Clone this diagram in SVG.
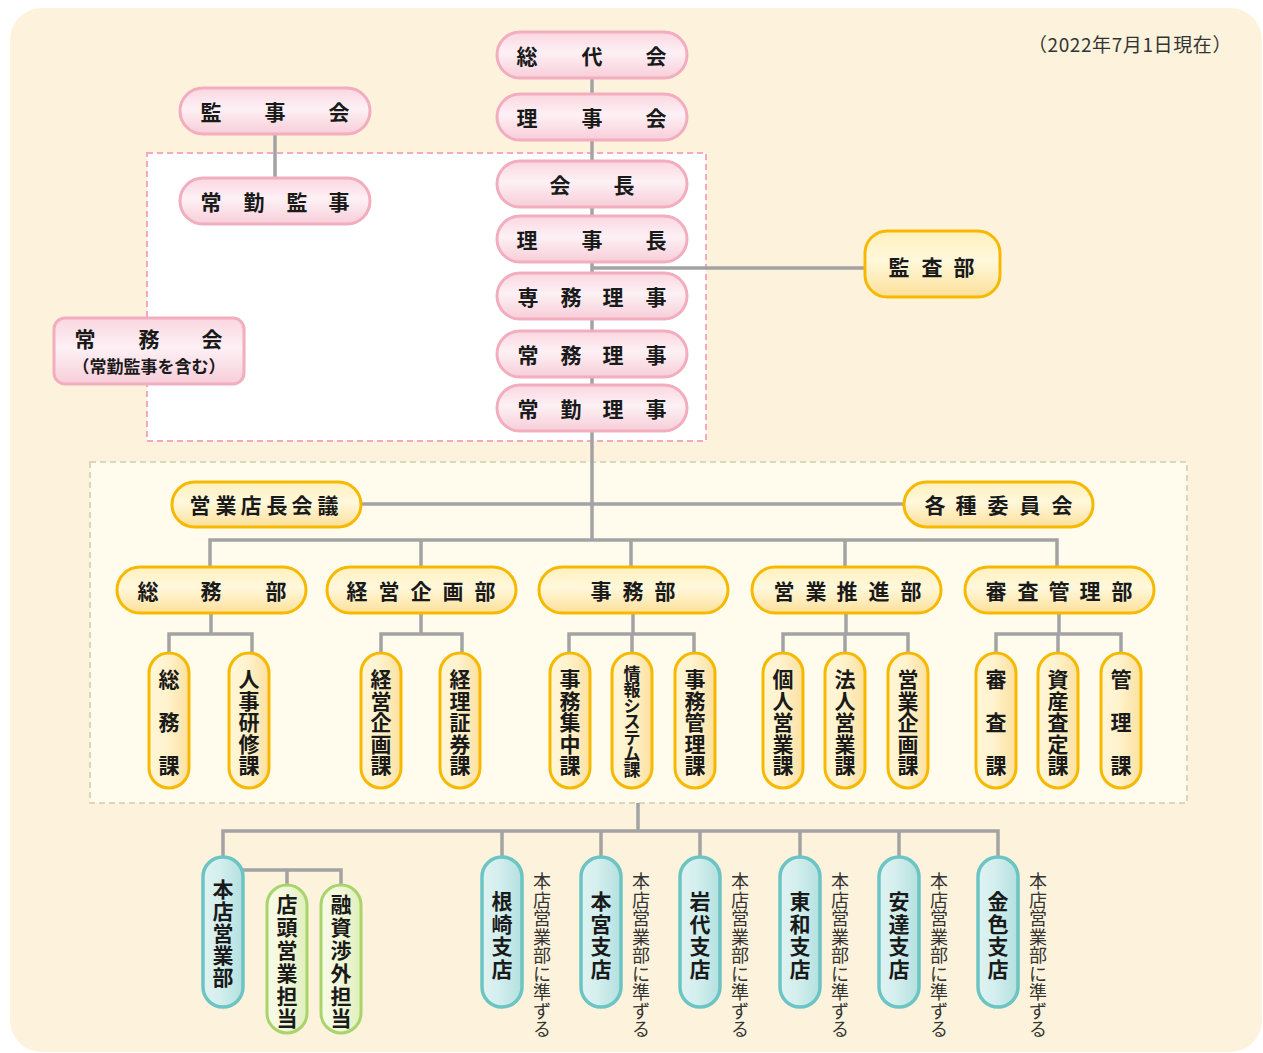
<svg xmlns="http://www.w3.org/2000/svg" width="1263" height="1053" viewBox="0 0 1263 1053">
<defs>
<linearGradient id="gPink" x1="0" y1="0" x2="0" y2="1">
<stop offset="0" stop-color="#fbd6e1"/><stop offset="0.45" stop-color="#fdf1f5"/><stop offset="1" stop-color="#f8cdd9"/>
</linearGradient>
<linearGradient id="gYel" x1="0" y1="0" x2="0" y2="1">
<stop offset="0" stop-color="#fff0bd"/><stop offset="0.45" stop-color="#fff8dc"/><stop offset="1" stop-color="#fde09a"/>
</linearGradient>
<linearGradient id="gYelV" x1="0" y1="0" x2="1" y2="0">
<stop offset="0" stop-color="#fff6d6"/><stop offset="0.4" stop-color="#fff4d0"/><stop offset="1" stop-color="#fde0a0"/>
</linearGradient>
<linearGradient id="gTeal" x1="0" y1="0" x2="1" y2="0">
<stop offset="0" stop-color="#dff3f2"/><stop offset="0.4" stop-color="#d4efee"/><stop offset="1" stop-color="#b3e0df"/>
</linearGradient>
<linearGradient id="gGreen" x1="0" y1="0" x2="1" y2="0">
<stop offset="0" stop-color="#f7fbe6"/><stop offset="0.4" stop-color="#f3f8dd"/><stop offset="1" stop-color="#e1efbc"/>
</linearGradient>
</defs>
<style>
.pink{fill:url(#gPink);stroke:#f2adbf;stroke-width:3}
.yel{fill:url(#gYel);stroke:#f7b900;stroke-width:3}
.yelv{fill:url(#gYelV);stroke:#f7b900;stroke-width:3}
.teal{fill:url(#gTeal);stroke:#6cc4c4;stroke-width:3.5}
.green{fill:url(#gGreen);stroke:#a9d46b;stroke-width:3}
.t{font-family:"Noto Sans CJK JP","Noto Sans CJK SC",sans-serif;font-weight:bold;font-size:21px;fill:#1a1a1a;text-anchor:middle;dominant-baseline:central}
.ts{font-size:17px}
.note{font-family:"Noto Sans CJK JP",sans-serif;font-weight:normal;font-size:18px;fill:#333;text-anchor:middle;dominant-baseline:central}
.ln{fill:none;stroke:#a3a3a3;stroke-width:3.5}
</style>
<rect x="10" y="8" width="1252" height="1044" rx="32" fill="#fdf3dc"/>
<rect x="147" y="153" width="559" height="288" fill="#ffffff" stroke="#f4aabc" stroke-width="2" stroke-dasharray="6 4"/>
<rect x="90" y="462" width="1097" height="341" fill="#fffcee" stroke="#ddd5bd" stroke-width="2" stroke-dasharray="6 4"/>
<text x="1232" y="43" font-family="Noto Sans CJK JP,sans-serif" font-size="19" letter-spacing="0.6" fill="#333" text-anchor="end" dominant-baseline="central">（2022年7月1日現在）</text>

<g id="connectors">
<path class="ln" d="M592 78V540M275 134V178M592 268H865M361 504H904"/>
<path class="ln" d="M210 567V540H1057V567M421 540V567M631 540V567M845 540V567"/>
<path class="ln" d="M211 613V634M169 653V634H252V653"/>
<path class="ln" d="M421 613V634M381 653V634H462V653"/>
<path class="ln" d="M633 613V634M569 653V634H694V653M632 634V653"/>
<path class="ln" d="M846 613V634M783 653V634H908V653M845 634V653"/>
<path class="ln" d="M1059 613V634M996 653V634H1121V653M1058 634V653"/>
<path class="ln" d="M638 803V831M223 857V831H998V857M502 831V857M601 831V857M700 831V857M800 831V857M899 831V857"/>
<path class="ln" d="M243 870H341V885M287 870V885"/>
</g>

<g id="n-soudai"><rect class="pink" x="497" y="32" width="190" height="46" rx="23"/><text class="t" x="527 592 656" y="55">総代会</text></g>
<g id="n-rijikai"><rect class="pink" x="497" y="94" width="190" height="46" rx="23"/><text class="t" x="527 592 656" y="117">理事会</text></g>
<g id="n-kaicho"><rect class="pink" x="497" y="161" width="190" height="46" rx="23"/><text class="t" x="560 624" y="184">会長</text></g>
<g id="n-rijicho"><rect class="pink" x="497" y="216" width="190" height="46" rx="23"/><text class="t" x="527 592 656" y="239">理事長</text></g>
<g id="n-senmu"><rect class="pink" x="497" y="273" width="190" height="46" rx="23"/><text class="t" x="528 571 613 656" y="296">専務理事</text></g>
<g id="n-jomu"><rect class="pink" x="497" y="331" width="190" height="46" rx="23"/><text class="t" x="528 571 613 656" y="354">常務理事</text></g>
<g id="n-jokin"><rect class="pink" x="497" y="385" width="190" height="46" rx="23"/><text class="t" x="528 571 613 656" y="408">常勤理事</text></g>
<g id="n-kanjikai"><rect class="pink" x="180" y="88" width="190" height="46" rx="23"/><text class="t" x="211 275 339" y="111">監事会</text></g>
<g id="n-jokinkanji"><rect class="pink" x="180" y="178" width="190" height="46" rx="23"/><text class="t" x="211 254 297 339" y="201">常勤監事</text></g>
<g id="n-jomukai"><rect class="pink" x="54" y="318" width="190" height="66" rx="11"/><text class="t" x="85 149 212" y="338">常務会</text><text class="t ts" x="149" y="365">（常勤監事を含む）</text></g>
<g id="n-kansa"><rect class="yel" x="865" y="231" width="135" height="66" rx="22"/><text class="t" x="899 932 964" y="266">監査部</text></g>

<g id="n-tencho"><rect class="yel" x="172" y="482" width="189" height="45" rx="22.5"/><text class="t" x="200 226 251 277 302 328" y="504">営業店長会議</text></g>
<g id="n-iinkai"><rect class="yel" x="904" y="482" width="189" height="45" rx="22.5"/><text class="t" x="935 966 998 1030 1062" y="504">各種委員会</text></g>

<g id="d-somu"><rect class="yel" x="117" y="567" width="189" height="46" rx="23"/><text class="t" x="148 211 276" y="590">総務部</text></g>
<g id="d-keiei"><rect class="yel" x="327" y="567" width="189" height="46" rx="23"/><text class="t" x="357 389 421 453 485" y="590">経営企画部</text></g>
<g id="d-jimu"><rect class="yel" x="539" y="567" width="189" height="46" rx="23"/><text class="t" x="601 633 665" y="590">事務部</text></g>
<g id="d-eigyo"><rect class="yel" x="752" y="567" width="189" height="46" rx="23"/><text class="t" x="784 816 847 879 911" y="590">営業推進部</text></g>
<g id="d-shinsa"><rect class="yel" x="965" y="567" width="189" height="46" rx="23"/><text class="t" x="996 1028 1059 1090 1122" y="590">審査管理部</text></g>

<g id="s-somuka"><rect class="yelv" x="149" y="653" width="40" height="135" rx="20"/><text class="t" x="169 169 169" y="678 721 764">総務課</text></g>
<g id="s-jinji"><rect class="yelv" x="229" y="653" width="40" height="135" rx="20"/><text class="t" x="249 249 249 249 249" y="678 699.5 721 742.5 764">人事研修課</text></g>
<g id="s-keieika"><rect class="yelv" x="361" y="653" width="40" height="135" rx="20"/><text class="t" x="381 381 381 381 381" y="678 699.5 721 742.5 764">経営企画課</text></g>
<g id="s-keiri"><rect class="yelv" x="440" y="653" width="40" height="135" rx="20"/><text class="t" x="460 460 460 460 460" y="678 699.5 721 742.5 764">経理証券課</text></g>
<g id="s-shuchu"><rect class="yelv" x="550" y="653" width="40" height="135" rx="20"/><text class="t" x="570 570 570 570 570" y="678 699.5 721 742.5 764">事務集中課</text></g>
<g id="s-joho"><rect class="yelv" x="612" y="653" width="40" height="135" rx="20"/><text class="t ts" x="632 632 632 632 632 632 632" y="672 688 704 720 736 752 768">情報システム課</text></g>
<g id="s-kanri"><rect class="yelv" x="675" y="653" width="40" height="135" rx="20"/><text class="t" x="695 695 695 695 695" y="678 699.5 721 742.5 764">事務管理課</text></g>
<g id="s-kojin"><rect class="yelv" x="763" y="653" width="40" height="135" rx="20"/><text class="t" x="783 783 783 783 783" y="678 699.5 721 742.5 764">個人営業課</text></g>
<g id="s-hojin"><rect class="yelv" x="825" y="653" width="40" height="135" rx="20"/><text class="t" x="845 845 845 845 845" y="678 699.5 721 742.5 764">法人営業課</text></g>
<g id="s-kikaku"><rect class="yelv" x="888" y="653" width="40" height="135" rx="20"/><text class="t" x="908 908 908 908 908" y="678 699.5 721 742.5 764">営業企画課</text></g>
<g id="s-shinsaka"><rect class="yelv" x="976" y="653" width="40" height="135" rx="20"/><text class="t" x="996 996 996" y="678 721 764">審査課</text></g>
<g id="s-shisan"><rect class="yelv" x="1038" y="653" width="40" height="135" rx="20"/><text class="t" x="1058 1058 1058 1058 1058" y="678 699.5 721 742.5 764">資産査定課</text></g>
<g id="s-kanrika"><rect class="yelv" x="1101" y="653" width="40" height="135" rx="20"/><text class="t" x="1121 1121 1121" y="678 721 764">管理課</text></g>

<g id="b-honten"><rect class="teal" x="203" y="857" width="40" height="150" rx="20"/><text class="t" x="223 223 223 223 223" y="888 910 932 954 976">本店営業部</text></g>
<g id="b-tento"><rect class="green" x="267" y="885" width="40" height="148" rx="20"/><text class="t" x="287 287 287 287 287 287" y="903 926 949 972 995 1017">店頭営業担当</text></g>
<g id="b-yushi"><rect class="green" x="321" y="885" width="40" height="148" rx="20"/><text class="t" x="341 341 341 341 341 341" y="903 926 949 972 995 1017">融資渉外担当</text></g>
<g id="b-nezaki"><rect class="teal" x="482" y="857" width="40" height="150" rx="20"/><text class="t" x="502 502 502 502" y="900 922.5 945 967.5">根崎支店</text><text class="note" x="542 542 542 542 542 542 542 542 542" y="880 898.5 917 935.5 954 972.5 991 1009.5 1028">本店営業部に準ずる</text></g>
<g id="b-motomiya"><rect class="teal" x="581" y="857" width="40" height="150" rx="20"/><text class="t" x="601 601 601 601" y="900 922.5 945 967.5">本宮支店</text><text class="note" x="641 641 641 641 641 641 641 641 641" y="880 898.5 917 935.5 954 972.5 991 1009.5 1028">本店営業部に準ずる</text></g>
<g id="b-iwashiro"><rect class="teal" x="680" y="857" width="40" height="150" rx="20"/><text class="t" x="700 700 700 700" y="900 922.5 945 967.5">岩代支店</text><text class="note" x="740 740 740 740 740 740 740 740 740" y="880 898.5 917 935.5 954 972.5 991 1009.5 1028">本店営業部に準ずる</text></g>
<g id="b-towa"><rect class="teal" x="780" y="857" width="40" height="150" rx="20"/><text class="t" x="800 800 800 800" y="900 922.5 945 967.5">東和支店</text><text class="note" x="840 840 840 840 840 840 840 840 840" y="880 898.5 917 935.5 954 972.5 991 1009.5 1028">本店営業部に準ずる</text></g>
<g id="b-adachi"><rect class="teal" x="879" y="857" width="40" height="150" rx="20"/><text class="t" x="899 899 899 899" y="900 922.5 945 967.5">安達支店</text><text class="note" x="939 939 939 939 939 939 939 939 939" y="880 898.5 917 935.5 954 972.5 991 1009.5 1028">本店営業部に準ずる</text></g>
<g id="b-kaneiro"><rect class="teal" x="978" y="857" width="40" height="150" rx="20"/><text class="t" x="998 998 998 998" y="900 922.5 945 967.5">金色支店</text><text class="note" x="1038 1038 1038 1038 1038 1038 1038 1038 1038" y="880 898.5 917 935.5 954 972.5 991 1009.5 1028">本店営業部に準ずる</text></g>
</svg>
